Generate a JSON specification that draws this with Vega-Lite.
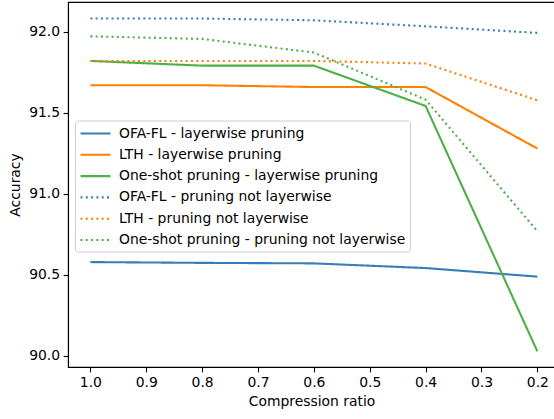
{
  "$schema": "https://vega.github.io/schema/vega-lite/v6.json",
  "width": 487,
  "height": 365,
  "autosize": {"type": "none"},
  "padding": {"left": 68, "top": 2, "right": 0, "bottom": 52},
  "background": "white",
  "config": {
    "font": "DejaVu Sans",
    "view": {"stroke": "#000000", "strokeWidth": 1.1},
    "axis": {
      "labelFont": "DejaVu Sans",
      "titleFont": "DejaVu Sans",
      "labelFontSize": 13.9,
      "titleFontSize": 13.9,
      "titleFontWeight": "normal",
      "labelColor": "#000000",
      "titleColor": "#000000",
      "tickColor": "#000000",
      "domainColor": "#000000",
      "tickSize": 4.9,
      "tickWidth": 1.1,
      "domainWidth": 1.1,
      "labelPadding": 3.5,
      "grid": false
    },
    "legend": {
      "labelFont": "DejaVu Sans",
      "labelFontSize": 13.9,
      "labelColor": "#000000"
    }
  },
  "data": {
    "values": [
      {"x": 1.0, "acc": 90.579, "series": "OFA-FL - layerwise pruning"},
      {"x": 0.8, "acc": 90.574, "series": "OFA-FL - layerwise pruning"},
      {"x": 0.6, "acc": 90.571, "series": "OFA-FL - layerwise pruning"},
      {"x": 0.4, "acc": 90.542, "series": "OFA-FL - layerwise pruning"},
      {"x": 0.2, "acc": 90.489, "series": "OFA-FL - layerwise pruning"},
      {"x": 1.0, "acc": 91.671, "series": "LTH - layerwise pruning"},
      {"x": 0.8, "acc": 91.671, "series": "LTH - layerwise pruning"},
      {"x": 0.6, "acc": 91.660, "series": "LTH - layerwise pruning"},
      {"x": 0.4, "acc": 91.660, "series": "LTH - layerwise pruning"},
      {"x": 0.2, "acc": 91.280, "series": "LTH - layerwise pruning"},
      {"x": 1.0, "acc": 91.821, "series": "One-shot pruning - layerwise pruning"},
      {"x": 0.8, "acc": 91.792, "series": "One-shot pruning - layerwise pruning"},
      {"x": 0.6, "acc": 91.792, "series": "One-shot pruning - layerwise pruning"},
      {"x": 0.4, "acc": 91.543, "series": "One-shot pruning - layerwise pruning"},
      {"x": 0.2, "acc": 90.028, "series": "One-shot pruning - layerwise pruning"},
      {"x": 1.0, "acc": 92.083, "series": "OFA-FL - pruning not layerwise"},
      {"x": 0.8, "acc": 92.083, "series": "OFA-FL - pruning not layerwise"},
      {"x": 0.6, "acc": 92.072, "series": "OFA-FL - pruning not layerwise"},
      {"x": 0.4, "acc": 92.035, "series": "OFA-FL - pruning not layerwise"},
      {"x": 0.2, "acc": 91.994, "series": "OFA-FL - pruning not layerwise"},
      {"x": 1.0, "acc": 91.821, "series": "LTH - pruning not layerwise"},
      {"x": 0.8, "acc": 91.821, "series": "LTH - pruning not layerwise"},
      {"x": 0.6, "acc": 91.821, "series": "LTH - pruning not layerwise"},
      {"x": 0.4, "acc": 91.805, "series": "LTH - pruning not layerwise"},
      {"x": 0.2, "acc": 91.578, "series": "LTH - pruning not layerwise"},
      {"x": 1.0, "acc": 91.973, "series": "One-shot pruning - pruning not layerwise"},
      {"x": 0.8, "acc": 91.957, "series": "One-shot pruning - pruning not layerwise"},
      {"x": 0.6, "acc": 91.873, "series": "One-shot pruning - pruning not layerwise"},
      {"x": 0.4, "acc": 91.582, "series": "One-shot pruning - pruning not layerwise"},
      {"x": 0.2, "acc": 90.770, "series": "One-shot pruning - pruning not layerwise"}
    ]
  },
  "mark": {"type": "line", "strokeWidth": 2.1, "clip": true},
  "encoding": {
    "x": {
      "field": "x",
      "type": "quantitative",
      "title": "Compression ratio",
      "scale": {"domain": [1.04, 0.1684], "nice": false, "zero": false},
      "axis": {"values": [1.0, 0.9, 0.8, 0.7, 0.6, 0.5, 0.4, 0.3, 0.2], "format": ".1f", "titlePadding": 5, "labelFlush": false}
    },
    "y": {
      "field": "acc",
      "type": "quantitative",
      "title": "Accuracy",
      "scale": {"domain": [89.931, 92.185], "nice": false, "zero": false},
      "axis": {"values": [90.0, 90.5, 91.0, 91.5, 92.0], "format": ".1f", "titlePadding": 6, "labelFlush": false}
    },
    "color": {
      "field": "series",
      "type": "nominal",
      "scale": {
        "domain": ["OFA-FL - layerwise pruning", "LTH - layerwise pruning", "One-shot pruning - layerwise pruning", "OFA-FL - pruning not layerwise", "LTH - pruning not layerwise", "One-shot pruning - pruning not layerwise"],
        "range": ["#377eb8", "#ff7f00", "#4daf4a", "#377eb8", "#ff7f00", "#4daf4a"]
      },
      "legend": {
        "title": null,
        "orient": "none",
        "legendX": 7,
        "legendY": 118.5,
        "symbolType": "M-1,0L3,0",
        "symbolSize": 225,
        "symbolStrokeWidth": 2.1,
        "labelOffset": 22,
        "rowPadding": 5.3,
        "padding": 4,
        "fillColor": "rgba(255,255,255,0.8)",
        "strokeColor": "#cccccc",
        "cornerRadius": 3,
        "labelLimit": 400
      }
    },
    "strokeDash": {
      "field": "series",
      "type": "nominal",
      "scale": {
        "domain": ["OFA-FL - layerwise pruning", "LTH - layerwise pruning", "One-shot pruning - layerwise pruning", "OFA-FL - pruning not layerwise", "LTH - pruning not layerwise", "One-shot pruning - pruning not layerwise"],
        "range": [[1, 0], [1, 0], [1, 0], [2, 3.3], [2, 3.3], [2, 3.3]]
      },
      "legend": {
        "title": null,
        "orient": "none",
        "legendX": 7,
        "legendY": 118.5,
        "symbolType": "M-1,0L3,0",
        "symbolSize": 225,
        "symbolStrokeWidth": 2.1,
        "labelOffset": 22,
        "rowPadding": 5.3,
        "padding": 4,
        "fillColor": "rgba(255,255,255,0.8)",
        "strokeColor": "#cccccc",
        "cornerRadius": 3,
        "labelLimit": 400
      }
    }
  }
}
